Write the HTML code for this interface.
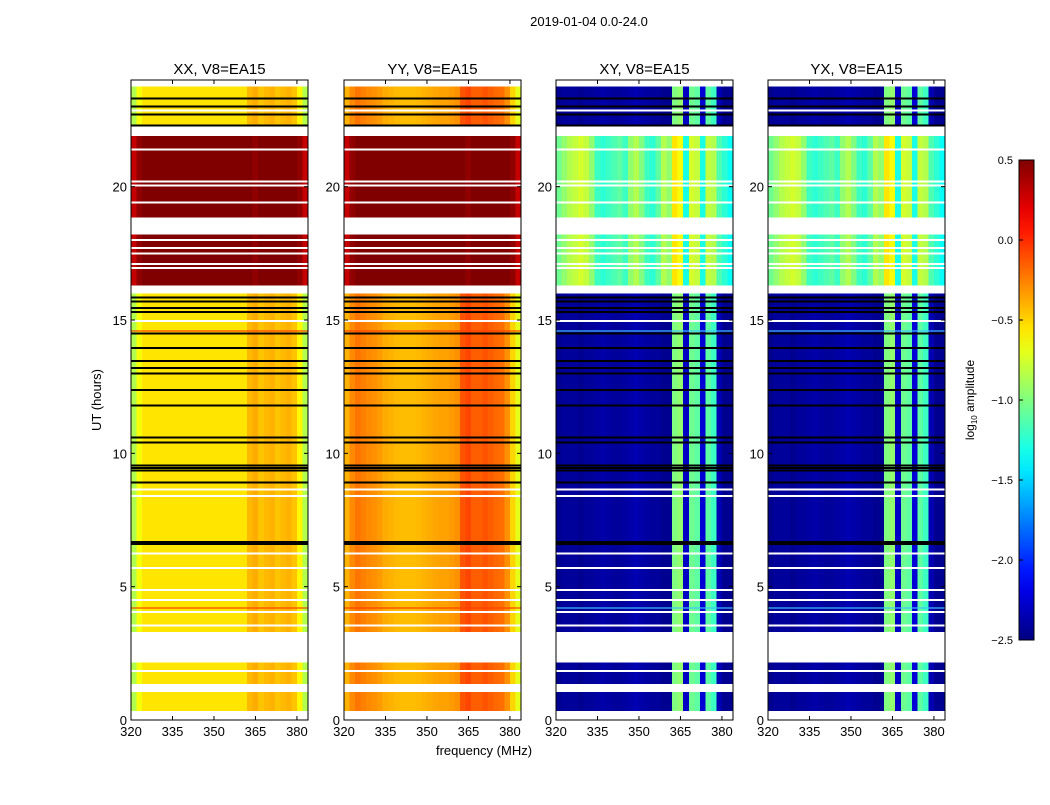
<!DOCTYPE html>
<html><head><meta charset="utf-8"><style>
body{margin:0;background:#fff;}
svg text{font-family:"Liberation Sans",sans-serif;}
</style></head><body>
<svg id="fig" width="1050" height="800" xmlns="http://www.w3.org/2000/svg">
<rect width="1050" height="800" fill="#fff"/>
<text x="589" y="26" font-size="13" text-anchor="middle">2019-01-04 0.0-24.0</text>
<text x="101" y="400" font-size="13" text-anchor="middle" transform="rotate(-90 101 400)">UT (hours)</text>
<text x="484" y="755" font-size="13" text-anchor="middle">frequency (MHz)</text>
<g id="panels"></g>
<g id="cbar"></g>
</svg>
<script>
// ---- data ----
const panelNames = ["XX, V8=EA15","YY, V8=EA15","XY, V8=EA15","YX, V8=EA15"];
const panelKinds = ["xx","yy","xy","xy"];
const segStart = [0.0, 0.33, 1.05, 1.35, 2.15, 3.3, 6.65, 8.9, 16.0, 16.3, 18.2, 18.85, 21.9, 22.3, 23.75];
const segEnd   = [0.33, 1.05, 1.35, 2.15, 3.3, 6.65, 8.9, 16.0, 16.3, 18.2, 18.85, 21.9, 22.3, 23.75, 24.0];
const segKind  = ["W","L","W","L","W","L","L","L","W","H","W","H","W","L","W"];
const blackLines = [23.3,23.0,22.7,22.3,15.85,15.7,15.45,15.3,14.5,13.95,13.47,13.2,13.0,12.37,11.8,10.6,10.4,9.45,9.55,9.35,8.9,6.67,6.6];
const whiteLines = [22.86,21.4,20.2,19.4,18.0,17.7,17.5,17.1,16.95,14.97,8.65,8.4,6.25,5.7,4.87,4.5,4.05,3.55,1.84,0.15,21.95,20.05];
const speckLines = [14.58,4.2];
const freqBins = [320,322,324,326,328,330,332,334,336,338,340,342,344,346,348,350,352,354,356,358,360,362,364,366,368,370,372,374,376,378,380,382];
const xxLow  = [-0.85,-0.65,-0.55,-0.55,-0.55,-0.55,-0.55,-0.55,-0.55,-0.55,-0.55,-0.55,-0.55,-0.55,-0.55,-0.55,-0.55,-0.55,-0.55,-0.55,-0.55,-0.42,-0.38,-0.45,-0.42,-0.4,-0.45,-0.42,-0.4,-0.45,-0.6,-0.85];
const yyLow  = [-0.4,-0.28,-0.22,-0.25,-0.28,-0.3,-0.33,-0.38,-0.4,-0.42,-0.43,-0.43,-0.43,-0.42,-0.4,-0.38,-0.36,-0.35,-0.35,-0.33,-0.3,-0.12,-0.08,-0.15,-0.15,-0.12,-0.15,-0.18,-0.2,-0.3,-0.5,-0.7];
const xyLow  = [-2.45,-2.42,-2.42,-2.42,-2.45,-2.42,-2.42,-2.4,-2.38,-2.4,-2.42,-2.42,-2.4,-2.38,-2.35,-2.38,-2.4,-2.42,-2.42,-2.45,-2.45,-1.0,-0.95,-2.3,-1.05,-1.1,-2.25,-1.1,-1.2,-2.35,-2.45,-2.45];
const xxHigh = [0.3,0.45,0.5,0.5,0.5,0.5,0.5,0.5,0.5,0.5,0.5,0.5,0.5,0.5,0.5,0.5,0.5,0.5,0.5,0.5,0.5,0.5,0.45,0.5,0.5,0.5,0.5,0.5,0.5,0.5,0.45,0.3];
const xyHigh = [-1.05,-0.95,-0.85,-0.8,-0.75,-0.8,-0.95,-1.2,-1.25,-1.2,-1.15,-1.1,-1.2,-0.95,-0.85,-1.0,-1.2,-1.25,-1.1,-0.85,-0.95,-0.55,-0.65,-1.3,-0.75,-0.8,-1.3,-0.8,-0.85,-1.15,-1.25,-1.35];
const xTicks = [320,335,350,365,380];
const yTicks = [0,5,10,15,20];
const cbTicks = [0.5,0.0,-0.5,-1.0,-1.5,-2.0,-2.5];
const cbLabels = ["0.5","0.0","\u22120.5","\u22121.0","\u22121.5","\u22122.0","\u22122.5"];

// ---- geometry ----
const panelLeft = [131,344,556,768];
const PW = 177, PT = 80, PB = 720;
const fMin = 320, fMax = 384, tMin = 0, tMax = 24;
const vMin = -2.5, vMax = 0.5;
const NS = "http://www.w3.org/2000/svg";
function xs(p,f){return panelLeft[p] + (f-fMin)/(fMax-fMin)*PW;}
function ys(t){return PB - (t-tMin)/(tMax-tMin)*(PB-PT);}
function jet(v){
  let t=(v-vMin)/(vMax-vMin); t=Math.max(0,Math.min(1,t));
  const c=x=>Math.max(0,Math.min(1,x));
  const r=c(1.5-Math.abs(4*t-3)), g=c(1.5-Math.abs(4*t-2)), b=c(1.5-Math.abs(4*t-1));
  return `rgb(${Math.round(r*255)},${Math.round(g*255)},${Math.round(b*255)})`;
}
function mk(tag,attrs,parent){const e=document.createElementNS(NS,tag);for(const k in attrs)e.setAttribute(k,attrs[k]);parent.appendChild(e);return e;}
const panelsG=document.getElementById('panels');
for(let p=0;p<4;p++){
  const g=mk('g',{},panelsG);
  
  
  const kind=panelKinds[p];
  const low = kind==='xx'?xxLow:kind==='yy'?yyLow:xyLow;
  const high = kind==='xy'?xyHigh:xxHigh;
  const hm=mk('g',{'shape-rendering':'crispEdges'},g);
  
  
  for(let s=0;s<segStart.length;s++){
    if(segKind[s]==='W') continue;
    const prof = segKind[s]==='H'?high:low;
    const y0=ys(segEnd[s]), y1=ys(segStart[s]);
    for(let i=0;i<freqBins.length;i++){
      const f0=freqBins[i], f1=(i+1<freqBins.length?freqBins[i+1]:fMax);
      const r=mk('rect',{x:xs(p,f0).toFixed(2),y:y0.toFixed(2),width:(xs(p,f1)-xs(p,f0)+0.3).toFixed(2),height:(y1-y0).toFixed(2),fill:jet(prof[i])},hm);
      
      
    }
  }
  for(const h of whiteLines){
    const l=mk('rect',{x:panelLeft[p],y:(ys(h)-1).toFixed(1),width:PW,height:2,fill:'#fff'},hm);
    
    
  }
  for(const h of blackLines){
    const l=mk('rect',{x:panelLeft[p],y:(ys(h)-1).toFixed(1),width:PW,height:2,fill:'#000'},hm);
    
    
  }
  for(const h of speckLines){
    const l=mk('rect',{x:panelLeft[p],y:(ys(h)-1).toFixed(1),width:PW,height:2,fill:kind==='xy'?'#3fbfff':'#ff4000',opacity:0.6},hm);
    
    
  }
  const fr=mk('rect',{x:panelLeft[p],y:PT,width:PW,height:PB-PT,fill:'none',stroke:'#000','stroke-width':1},g);
  
  
  const tt=mk('text',{x:panelLeft[p]+PW/2,y:74,'font-size':15,'text-anchor':'middle'},g);
  tt.textContent=panelNames[p];
  
  
  for(const f of xTicks){
    const x=xs(p,f);
    mk('line',{x1:x,x2:x,y1:PB,y2:PB-4,stroke:'#000'},g);
    mk('line',{x1:x,x2:x,y1:PT,y2:PT+4,stroke:'#000'},g);
    const t=mk('text',{x:x,y:PB+16,'font-size':13,'text-anchor':'middle'},g);
    t.textContent=f;
    
    
  }
  for(const h of yTicks){
    const y=ys(h);
    mk('line',{x1:panelLeft[p],x2:panelLeft[p]+4,y1:y,y2:y,stroke:'#000'},g);
    mk('line',{x1:panelLeft[p]+PW,x2:panelLeft[p]+PW-4,y1:y,y2:y,stroke:'#000'},g);
    const t=mk('text',{x:panelLeft[p]-4,y:y+5,'font-size':13,'text-anchor':'end'},g);
    t.textContent=h;
    
    
  }
}
// colorbar
const cb=document.getElementById('cbar');


const CX=1019, CW=15, CT=160, CB=640;
const defs=mk('defs',{},cb);
const grad=mk('linearGradient',{id:'jetg',x1:0,y1:1,x2:0,y2:0},defs);
for(let i=0;i<=20;i++){const v=vMin+(vMax-vMin)*i/20;mk('stop',{offset:(i/20),'stop-color':jet(v)},grad);}
mk('rect',{x:CX,y:CT,width:CW,height:CB-CT,fill:'url(#jetg)',stroke:'#000'},cb);
cbTicks.forEach((v,i)=>{
  const y=CB-(v-vMin)/(vMax-vMin)*(CB-CT);
  mk('line',{x1:CX,x2:CX+4,y1:y,y2:y,stroke:'#000'},cb);
  const t=mk('text',{x:CX-6,y:y+4,'font-size':11,'text-anchor':'end'},cb);
  t.textContent=cbLabels[i];
  
  
});
const cl=mk('text',{x:974,y:400,'font-size':12,'text-anchor':'middle',transform:'rotate(-90 974 400)'},cb);
cl.innerHTML='log<tspan font-size="8" dy="3">10</tspan><tspan dy="-3"> amplitude</tspan>';


</script>
</body></html>
